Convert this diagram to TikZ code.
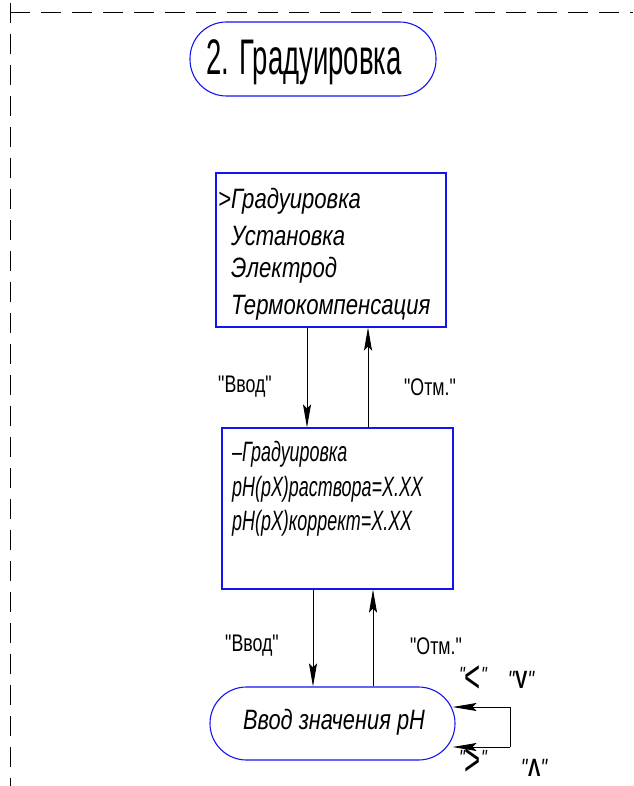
\documentclass[tikz,border=0pt]{standalone}
\usepackage{fontspec}
\setmainfont{Liberation Sans}
\newfontfamily\ftitle[FakeStretch=0.55]{Liberation Sans}
\newfontfamily\fmenu[FakeStretch=0.79]{Liberation Sans}
\newfontfamily\fmenub[FakeStretch=0.64]{Liberation Sans}
\newfontfamily\flab[FakeStretch=0.74]{Liberation Sans}
\newfontfamily\fell[FakeStretch=0.78]{Liberation Sans}
\newfontfamily\fsym[FakeStretch=0.6]{Liberation Sans}
\usetikzlibrary{arrows.meta}
\definecolor{bblue}{RGB}{20,20,240}
\newcommand{\bigsym}[1]{\raisebox{-10pt}{\fsym\fontsize{46}{46}\selectfont #1}}
\begin{document}
\begin{tikzpicture}[x=1pt,y=-1pt,
  frame/.style={line width=1pt,dash pattern=on 20pt off 11pt},
  bluebox/.style={draw=bblue,line width=1.1pt,inner sep=0pt},
  pill/.style={bluebox,rounded corners=36.5pt},
  arr/.style={line width=0.9pt,-{Stealth[length=23pt,width=8pt,inset=4pt]}},
  larr/.style={line width=0.9pt,-{Stealth[length=24pt,width=8pt,inset=4pt]}},
  txt/.style={anchor=base west,inner sep=0pt},
  lab/.style={inner sep=0pt,font=\flab\fontsize{24}{24}\selectfont},
  klab/.style={inner sep=0pt,font=\flab\fontsize{22}{22}\selectfont},
  blab/.style={inner sep=0pt,font=\flab\fontsize{25}{25}\selectfont}]
\useasboundingbox (0,0) rectangle (633,786);
% frame
\coordinate (f1) at (10,786);
\coordinate (f2) at (10,13);
\coordinate (f3) at (633,13);
\draw[frame] (f2) -- (f3);
\draw[frame] ([yshift=10pt]f2) -- (f1);
% title
\node[pill,minimum width=246pt,minimum height=74pt] (title) at (313,59) {};
\node[inner sep=0pt,font=\ftitle\fontsize{50}{50}\selectfont] (titlet) at (304,62) {2. Градуировка};
% box 1
\node[bluebox,minimum width=230pt,minimum height=154pt] (b1) at (331,250) {};
\begin{scope}[font=\fmenu\itshape\fontsize{28}{28}\selectfont]
\node[txt] (b1a) at (218,209) {>Градуировка};
\node[txt] (b1b) at (231,245) {Установка};
\node[txt] (b1c) at (231,277) {Электрод};
\node[txt] (b1d) at (231,314) {Термокомпенсация};
\end{scope}
% box 2
\node[bluebox,minimum width=231pt,minimum height=161pt] (b2) at (337.5,508.5) {};
\begin{scope}[font=\fmenub\itshape\fontsize{28}{28}\selectfont]
\node[txt] (b2a) at (232,461) {–Градуировка};
\node[txt] (b2b) at (232,496) {pH(pX)раствора=X.XX};
\node[txt] (b2c) at (232,530) {pH(pX)коррект=X.XX};
\end{scope}
% ellipse
\node[pill,minimum width=245pt,minimum height=73pt] (e) at (332.5,723.5) {};
\node[inner sep=0pt,font=\fell\itshape\fontsize{28}{28}\selectfont] (et) at (334,722) {Ввод значения pH};
% arrows
\draw[arr] (307,0 |- b1.south) -- (307,0 |- b2.north);
\draw[arr] (368,0 |- b2.north) -- (368,0 |- b1.south);
\draw[arr] (313,0 |- b2.south) -- (313,0 |- e.north);
\draw[arr] (373,0 |- e.north) -- (373,0 |- b2.south);
\node[lab] (l1) at (245,387) {"Ввод"};
\node[lab] (l2) at (430,387) {"Отм."};
\node[lab] (l3) at (252,646) {"Ввод"};
\node[lab] (l4) at (436,646) {"Отм."};
% loop
\coordinate (p1) at (510,707);
\coordinate (p2) at (510,747);
\draw[line width=0.9pt] (p1) -- (p2);
\draw[larr] (p1) -- ([xshift=-3pt]e.east |- p1);
\draw[larr] (p2) -- ([xshift=-3pt]e.east |- p2);
\node[klab,anchor=base] (k1) at (473,682) {\itshape"\upshape\bigsym{<}\itshape"};
\node[blab] (k2) at (521,680) {\itshape"\upshape\textbf{V}\itshape"};
\node[klab,anchor=base] (k3) at (473,765) {\itshape"\upshape\bigsym{>}\itshape"};
\node[blab] (k4) at (534,768) {\itshape"\upshape\textbf{Λ}\itshape"};
\end{tikzpicture}
\end{document}
